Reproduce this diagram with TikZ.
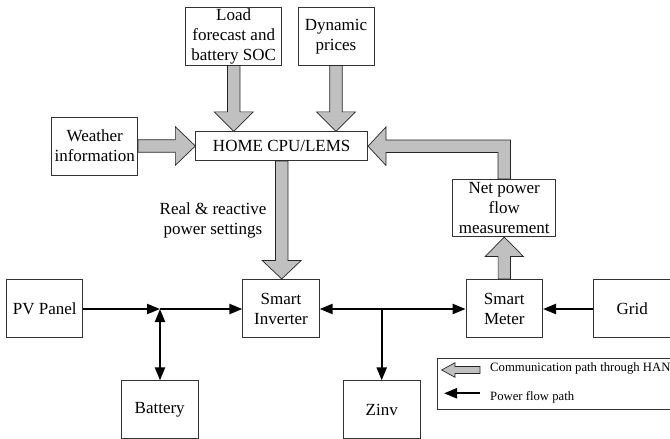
\documentclass[tikz,border=0pt]{standalone}
\usepackage{fontspec}
\setmainfont{Liberation Serif}
\usetikzlibrary{arrows.meta,calc}
\definecolor{commgray}{RGB}{192,192,192}
\begin{document}
\begin{tikzpicture}[x=1pt,y=-1pt,
 box/.style={draw=black!80, line width=0.7pt, fill=white, inner sep=1pt, align=center, font=\fontsize{17}{20}\selectfont},
 comm/.style={fill=commgray, draw=black!85, line width=0.7pt, line join=miter},
 pow/.style={line width=2.2pt, -{Triangle[length=13pt,width=10pt]}},
 lbl/.style={font=\fontsize{17}{20}\selectfont, align=center, inner sep=0pt},
 lgd/.style={font=\fontsize{12.7}{15}\selectfont, anchor=west, inner sep=0pt}]
\useasboundingbox (0,0) rectangle (670,439);
\clip (0,0) rectangle (670,439);
% boxes
\node[box, minimum width=96pt, minimum height=57.7pt] (load) at (233.7,36.2) {Load\\forecast and\\battery SOC};
\node[box, minimum width=76pt, minimum height=57.7pt] (dyn) at (336,36.2) {Dynamic\\prices};
\node[box, minimum width=86pt, minimum height=58pt] (weather) at (94.7,146) {Weather\\information};
\node[box, minimum width=172pt, minimum height=29pt] (home) at (281.7,146.2) {HOME CPU/LEMS};
\node[box, minimum width=103pt, minimum height=57.4pt] (net) at (504.2,208) {Net power\\flow\\measurement};
\node[box, minimum width=76pt, minimum height=58.4pt] (pv) at (44.7,308.5) {PV Panel};
\node[box, minimum width=76.6pt, minimum height=58.4pt] (inv) at (281,308.5) {Smart\\Inverter};
\node[box, minimum width=76.7pt, minimum height=58.4pt] (meter) at (504.3,308.5) {Smart\\Meter};
\node[box, minimum width=78pt, minimum height=58.4pt] (grid) at (632.3,308.5) {Grid};
\node[box, minimum width=77.3pt, minimum height=57.6pt] (battery) at (159.7,409.5) {Battery};
\node[box, minimum width=76.7pt, minimum height=57.6pt] (zinv) at (381.7,409.5) {Zinv};
\node[lbl] (rr) at (213,220.5) {Real \& reactive\\power settings};
% communication arrows
\draw[comm] let \p1=(load.south), \p2=(home.north) in
 (\x1-6.2pt,\y1) -- (\x1-6.2pt,\y2+19.5pt) -- (\x1-19.5pt,\y2+19.5pt) -- (\x1,\y2) -- (\x1+19.5pt,\y2+19.5pt) -- (\x1+6.2pt,\y2+19.5pt) -- (\x1+6.2pt,\y1) -- cycle;
\draw[comm] let \p1=(dyn.south), \p2=(home.north) in
 (\x1-6.2pt,\y1) -- (\x1-6.2pt,\y2+19.5pt) -- (\x1-19.5pt,\y2+19.5pt) -- (\x1,\y2) -- (\x1+19.5pt,\y2+19.5pt) -- (\x1+6.2pt,\y2+19.5pt) -- (\x1+6.2pt,\y1) -- cycle;
\draw[comm] let \p1=(home.south), \p2=(inv.north) in
 (\x1-6.2pt,\y1) -- (\x1-6.2pt,\y2+18.5pt) -- (\x1-19.5pt,\y2+18.5pt) -- (\x1,\y2) -- (\x1+19.5pt,\y2+18.5pt) -- (\x1+6.2pt,\y2+18.5pt) -- (\x1+6.2pt,\y1) -- cycle;
\draw[comm] let \p1=(weather.east), \p2=(home.west) in
 (\x1,\y1+6.2pt) -- (\x2-20pt,\y1+6.2pt) -- (\x2-20pt,\y1+19.3pt) -- (\x2,\y1) -- (\x2-20pt,\y1-19.3pt) -- (\x2-20pt,\y1-6.2pt) -- (\x1,\y1-6.2pt) -- cycle;
\draw[comm] let \p1=(meter.north), \p2=(net.south) in
 (\x1-6.2pt,\y1) -- (\x1-6.2pt,\y2-19.5pt) -- (\x1-19.2pt,\y2-19.5pt) -- (\x1,\y2) -- (\x1+19.2pt,\y2-19.5pt) -- (\x1+6.2pt,\y2-19.5pt) -- (\x1+6.2pt,\y1) -- cycle;
\draw[comm] let \p1=(net.north), \p2=(home.east) in
 (\x1-6.2pt,\y1) -- (\x1-6.2pt,\y2-6.2pt) -- (\x2+18pt,\y2-6.2pt) -- (\x2+18pt,\y2-19.3pt) -- (\x2,\y2) -- (\x2+18pt,\y2+19.3pt) -- (\x2+18pt,\y2+6.2pt) -- (\x1+6.2pt,\y2+6.2pt) -- (\x1+6.2pt,\y1) -- cycle;
% power flow
\coordinate (j1) at (160,309);
\coordinate (j2) at (381.7,309);
\draw[pow] (pv.east |- j1) -- (j1);
\draw[pow] (j1) -- (inv.west |- j1);
\draw[pow, {Triangle[length=13pt,width=10pt]}-{Triangle[length=13pt,width=10pt]}] (j1) -- (battery.north -| j1);
\draw[pow] (j2) -- (inv.east |- j2);
\draw[pow] (j2) -- (meter.west |- j2);
\draw[pow] (j2) -- (zinv.north -| j2);
\draw[pow] (grid.west |- j2) -- (meter.east |- j2);
% legend
\node[draw=black!80, line width=0.7pt, anchor=north west, minimum width=263.3pt, minimum height=50.7pt, inner sep=0pt] (legend) at (436.7,358.3) {};
\draw[comm] (441.7,370) -- (455,362.7) -- (455,366.5) -- (480,366.5) -- (480,373.5) -- (455,373.5) -- (455,377.3) -- cycle;
\coordinate (lb1) at (480,393.3);
\coordinate (lb2) at (444,393.3);
\draw[pow] (lb1) -- (lb2);
\node[lgd] (t1) at (490,368.3) {Communication path through HAN};
\node[lgd] (t2) at (490,397.3) {Power flow path};
\end{tikzpicture}
\end{document}
